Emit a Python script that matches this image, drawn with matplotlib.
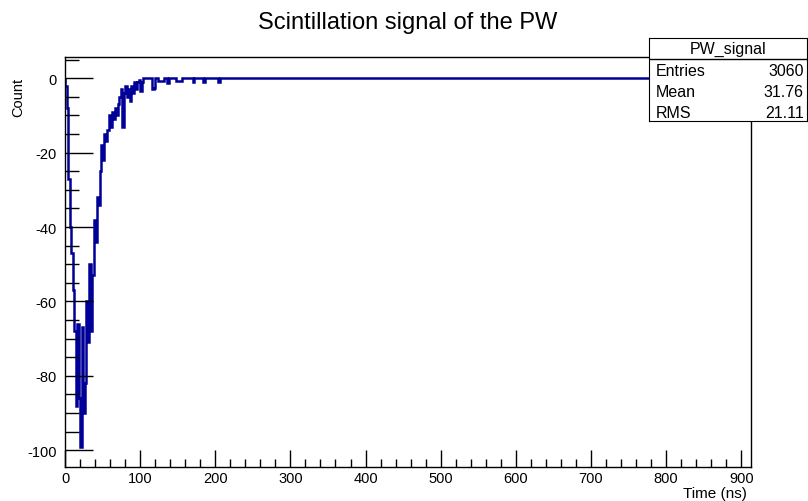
import numpy as np
import matplotlib
matplotlib.use("Agg")
import matplotlib.pyplot as plt
from matplotlib.ticker import MultipleLocator

plt.rcParams['font.family'] = ['Liberation Sans', 'DejaVu Sans']
plt.rcParams['axes.unicode_minus'] = False

# histogram: 2 ns bins from 0 ns
bin_width = 2.0
n_bins = 456
# signal part, first bins (counts are negative)
signal_head = [-2, -8, -27, -40, -47, -57, -68, -88, -66, -86,
               -99, -67, -90, -82, -60, -71, -50, -68, -53, -38,
               -44, -32, -34, -25, -18, -22, -15, -17, -14, -10,
               -13, -9, -11, -8, -10, -7, -5, -3, -13, -4,
               -2, -5, -3, -6, -2, -4, -1, -3, -1, -0.5,
               -3.5, -1, 0]
# small late dips: (bin index, value)
late_bins = [58, 59, 62, 63, 64, 65, 68, 74, 75, 76, 77, 85, 92, 102]
late_vals = [-3, -2.5, -0.7, -0.7, -0.7, -0.7, -1.3, -0.7, -0.7, -0.7, -0.7, -0.9, -0.9, -0.9]

stat_names = ["Entries", "Mean", "RMS"]
stat_vals = ["3060", "31.76", "21.11"]

counts = np.zeros(n_bins)
counts[:len(signal_head)] = signal_head
counts[late_bins] = late_vals
edges = np.arange(n_bins + 1) * bin_width

fig = plt.figure(figsize=(8.08, 5.02), dpi=100)
ax = fig.add_axes([65 / 808, 1 - 468 / 502, (751 - 65) / 808, (468 - 58) / 502])
ax.stairs(counts, edges, color="#000099", lw=1.8)

ax.set_xlim(0, 913)
ax.set_ylim(-104.5, 5.7)
ax.xaxis.set_major_locator(MultipleLocator(100))
ax.xaxis.set_minor_locator(MultipleLocator(20))
ax.yaxis.set_major_locator(MultipleLocator(20))
ax.yaxis.set_minor_locator(MultipleLocator(5))
ax.tick_params(axis="x", which="major", direction="in", length=12, width=1, labelsize=10.5, pad=3)
ax.tick_params(axis="x", which="minor", direction="in", length=6, width=1)
ax.tick_params(axis="y", which="major", direction="in", length=20, width=1, labelsize=10.5, pad=6)
ax.tick_params(axis="y", which="minor", direction="in", length=10, width=1)
for s in ax.spines.values():
    s.set_linewidth(1)

fig.text(408 / 808, 1 - 23 / 502, "Scintillation signal of the PW", ha="center", va="center", fontsize=17)
fig.text(747 / 808, 1 - 494 / 502, "Time (ns)", ha="right", va="center", fontsize=11)
fig.text(18 / 808, 1 - 78 / 502, "Count", ha="center", va="top", rotation=90, fontsize=10.5)

# stats box
box = fig.add_axes([649 / 808, 1 - 122 / 502, (807 - 649) / 808, (122 - 39) / 502])
box.set_xticks([])
box.set_yticks([])
box.set_xlim(0, 1)
box.set_ylim(0, 4)
box.axhline(3, color="black", lw=1)
box.text(0.5, 3.5, "PW_signal", ha="center", va="center", fontsize=11.5)
for i, (n, v) in enumerate(zip(stat_names, stat_vals)):
    yy = 2.45 - i * 1.01
    box.text(0.04, yy, n, ha="left", va="center", fontsize=11.5)
    box.text(0.98, yy, v, ha="right", va="center", fontsize=11.5)

fig.savefig("out.png", dpi=100)
